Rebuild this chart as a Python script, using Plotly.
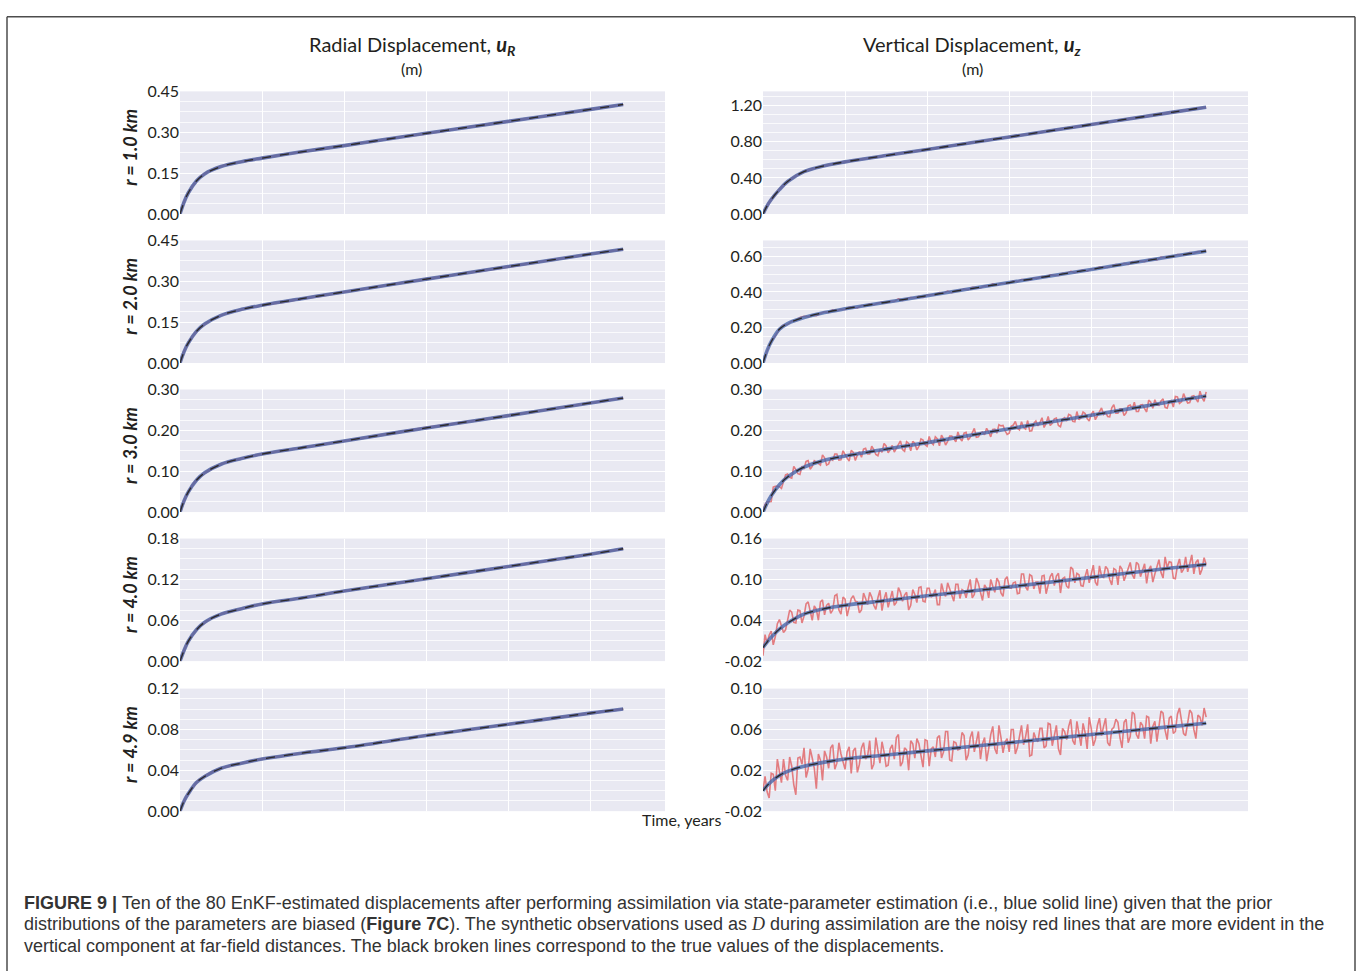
import numpy as np
import plotly.graph_objects as go
from plotly.subplots import make_subplots

# ---------------------------------------------------------------------------
# Data (displacements in metres, time in years)
# ---------------------------------------------------------------------------
ROW_LABELS = ["r = 1.0 km", "r = 2.0 km", "r = 3.0 km", "r = 4.0 km", "r = 4.9 km"]

# smooth curves (EnKF estimate / true value) sampled at these times
T_KNOTS = [0, 0.05, 0.1, 0.2, 0.3, 0.5, 0.75, 1.0, 1.5, 2.0, 3.0, 4.0, 5.0, 5.4]

RADIAL = [
    [0, 0.044, 0.077, 0.121, 0.147, 0.174, 0.192, 0.205, 0.229, 0.251, 0.296, 0.340, 0.384, 0.402],
    [0, 0.042, 0.073, 0.116, 0.143, 0.175, 0.197, 0.212, 0.237, 0.261, 0.308, 0.354, 0.400, 0.418],
    [0, 0.028, 0.049, 0.078, 0.096, 0.117, 0.131, 0.142, 0.158, 0.174, 0.206, 0.236, 0.267, 0.279],
    [0, 0.016, 0.029, 0.046, 0.057, 0.069, 0.077, 0.084, 0.093, 0.103, 0.121, 0.139, 0.157, 0.165],
    [0, 0.010, 0.017, 0.028, 0.034, 0.042, 0.047, 0.051, 0.057, 0.062, 0.074, 0.085, 0.096, 0.100],
]

VERTICAL = [
    [0, 0.090, 0.160, 0.270, 0.360, 0.470, 0.535, 0.578, 0.648, 0.716, 0.854, 0.992, 1.130, 1.185],
    [0, 0.070, 0.120, 0.190, 0.222, 0.256, 0.284, 0.305, 0.342, 0.379, 0.453, 0.527, 0.601, 0.630],
    [0, 0.022, 0.040, 0.067, 0.086, 0.110, 0.127, 0.137, 0.154, 0.170, 0.204, 0.237, 0.271, 0.284],
    [0, 0.008, 0.015, 0.027, 0.036, 0.049, 0.057, 0.062, 0.069, 0.076, 0.089, 0.103, 0.117, 0.122],
    [0, 0.005, 0.009, 0.015, 0.019, 0.024, 0.028, 0.031, 0.035, 0.039, 0.047, 0.055, 0.063, 0.066],
]

# synthetic (noisy) vertical observations: samples every 0.05 yr starting at 0,
# the *_MID lists hold the samples taken half-way between them
OBS_STEP = 0.05
OBS_V2 = [0.000, 0.068, 0.123, 0.153, 0.192, 0.214, 0.218, 0.235, 0.239, 0.256,
          0.263, 0.260, 0.270, 0.266, 0.279, 0.288, 0.285, 0.299, 0.296, 0.303,
          0.301, 0.314, 0.315, 0.310, 0.324, 0.323, 0.333, 0.328, 0.337, 0.343,
          0.338, 0.348, 0.347, 0.361, 0.353, 0.362, 0.369, 0.366, 0.375, 0.369,
          0.383, 0.384, 0.383, 0.396, 0.393, 0.405, 0.396, 0.407, 0.409, 0.416,
          0.413, 0.426, 0.424, 0.422, 0.434, 0.433, 0.445, 0.438, 0.448, 0.449,
          0.449, 0.462, 0.458, 0.470, 0.470, 0.466, 0.478, 0.478, 0.487, 0.483,
          0.496, 0.496, 0.493, 0.505, 0.504, 0.516, 0.509, 0.517, 0.525, 0.517,
          0.529, 0.529, 0.540, 0.541, 0.538, 0.547, 0.554, 0.551, 0.561, 0.555,
          0.571, 0.566, 0.574, 0.571, 0.583, 0.584, 0.581, 0.596, 0.593, 0.600,
          0.598, 0.610, 0.610, 0.608, 0.622, 0.618, 0.627, 0.626, 0.633]
OBS_V2_MID = []

OBS_V3 = [0.002, 0.025, 0.026, 0.063, 0.062, 0.076, 0.093, 0.083, 0.104, 0.092,
          0.107, 0.126, 0.112, 0.123, 0.115, 0.133, 0.118, 0.127, 0.142, 0.128,
          0.139, 0.125, 0.146, 0.140, 0.134, 0.156, 0.142, 0.153, 0.138, 0.146,
          0.162, 0.153, 0.147, 0.164, 0.153, 0.172, 0.150, 0.168, 0.161, 0.176,
          0.161, 0.170, 0.184, 0.162, 0.179, 0.173, 0.186, 0.172, 0.180, 0.193,
          0.176, 0.193, 0.183, 0.194, 0.189, 0.196, 0.202, 0.193, 0.211, 0.199,
          0.193, 0.213, 0.205, 0.221, 0.203, 0.198, 0.217, 0.211, 0.231, 0.217,
          0.212, 0.228, 0.212, 0.228, 0.223, 0.237, 0.221, 0.226, 0.245, 0.229,
          0.239, 0.226, 0.247, 0.239, 0.234, 0.255, 0.242, 0.253, 0.236, 0.260,
          0.252, 0.246, 0.262, 0.253, 0.274, 0.254, 0.262, 0.272, 0.256, 0.271,
          0.257, 0.282, 0.270, 0.277, 0.268, 0.285, 0.269, 0.280, 0.294]
OBS_V3_MID = [0.019, 0.026, 0.061, 0.063, 0.058, 0.091, 0.085, 0.112, 0.094, 0.112,
              0.124, 0.105, 0.126, 0.120, 0.140, 0.115, 0.131, 0.142, 0.127, 0.150,
              0.132, 0.151, 0.126, 0.148, 0.154, 0.142, 0.161, 0.141, 0.154, 0.168,
              0.145, 0.163, 0.156, 0.174, 0.149, 0.168, 0.173, 0.152, 0.179, 0.165,
              0.185, 0.165, 0.179, 0.188, 0.164, 0.186, 0.180, 0.196, 0.174, 0.195,
              0.183, 0.205, 0.184, 0.196, 0.205, 0.184, 0.203, 0.214, 0.212, 0.190,
              0.210, 0.222, 0.201, 0.207, 0.224, 0.199, 0.223, 0.219, 0.207, 0.234,
              0.217, 0.230, 0.209, 0.231, 0.239, 0.222, 0.246, 0.231, 0.241, 0.223,
              0.247, 0.235, 0.255, 0.244, 0.233, 0.263, 0.242, 0.253, 0.243, 0.262,
              0.269, 0.246, 0.263, 0.245, 0.269, 0.275, 0.261, 0.277, 0.254, 0.273,
              0.283, 0.266, 0.290, 0.267, 0.283, 0.278, 0.296, 0.271]

OBS_V4 = [-0.012, 0.006, 0.024, 0.016, 0.041, 0.022, 0.041, 0.052, 0.036, 0.054,
          0.046, 0.067, 0.040, 0.056, 0.067, 0.048, 0.065, 0.055, 0.078, 0.049,
          0.071, 0.057, 0.076, 0.067, 0.055, 0.072, 0.081, 0.062, 0.073, 0.054,
          0.081, 0.071, 0.062, 0.088, 0.068, 0.081, 0.062, 0.078, 0.088, 0.068,
          0.087, 0.074, 0.085, 0.063, 0.082, 0.095, 0.074, 0.093, 0.072, 0.083,
          0.088, 0.073, 0.102, 0.081, 0.092, 0.073, 0.090, 0.102, 0.080, 0.100,
          0.088, 0.095, 0.079, 0.108, 0.089, 0.107, 0.086, 0.096, 0.105, 0.079,
          0.104, 0.091, 0.109, 0.101, 0.090, 0.118, 0.095, 0.107, 0.090, 0.115,
          0.107, 0.096, 0.120, 0.103, 0.115, 0.092, 0.114, 0.120, 0.098, 0.114,
          0.107, 0.125, 0.104, 0.123, 0.114, 0.096, 0.120, 0.110, 0.133, 0.126,
          0.102, 0.120, 0.110, 0.133, 0.123, 0.108, 0.129, 0.115, 0.122]
OBS_V4_MID = [0.019, 0.018, 0.004, 0.035, 0.033, 0.026, 0.055, 0.037, 0.055, 0.036,
              0.064, 0.051, 0.061, 0.040, 0.070, 0.062, 0.050, 0.076, 0.055, 0.074,
              0.046, 0.072, 0.068, 0.051, 0.080, 0.063, 0.074, 0.056, 0.084, 0.071,
              0.059, 0.083, 0.066, 0.081, 0.077, 0.055, 0.085, 0.066, 0.089, 0.067,
              0.087, 0.077, 0.063, 0.094, 0.075, 0.086, 0.068, 0.093, 0.085, 0.073,
              0.100, 0.078, 0.094, 0.069, 0.087, 0.100, 0.081, 0.096, 0.075, 0.104,
              0.087, 0.096, 0.080, 0.108, 0.084, 0.105, 0.096, 0.079, 0.106, 0.091,
              0.109, 0.105, 0.080, 0.103, 0.087, 0.115, 0.109, 0.091, 0.104, 0.095,
              0.121, 0.091, 0.105, 0.119, 0.100, 0.116, 0.092, 0.115, 0.106, 0.125,
              0.101, 0.122, 0.115, 0.094, 0.120, 0.108, 0.129, 0.102, 0.117, 0.125,
              0.101, 0.130, 0.115, 0.111, 0.136, 0.125, 0.107, 0.132]

OBS_V5 = [0.000, -0.001, 0.017, 0.000, 0.019, 0.031, 0.010, 0.024, -0.004, 0.033,
          0.042, 0.021, 0.032, 0.002, 0.030, 0.039, 0.022, 0.045, 0.027, 0.036,
          0.021, 0.043, 0.039, 0.018, 0.042, 0.031, 0.049, 0.026, 0.038, 0.048,
          0.024, 0.041, 0.031, 0.055, 0.028, 0.040, 0.049, 0.032, 0.046, 0.023,
          0.049, 0.041, 0.033, 0.054, 0.038, 0.058, 0.029, 0.047, 0.041, 0.054,
          0.035, 0.058, 0.047, 0.031, 0.052, 0.041, 0.063, 0.036, 0.052, 0.048,
          0.038, 0.060, 0.042, 0.064, 0.053, 0.034, 0.057, 0.048, 0.061, 0.044,
          0.065, 0.056, 0.041, 0.061, 0.050, 0.070, 0.045, 0.056, 0.066, 0.041,
          0.061, 0.050, 0.071, 0.063, 0.047, 0.060, 0.070, 0.052, 0.067, 0.047,
          0.077, 0.055, 0.067, 0.051, 0.072, 0.063, 0.048, 0.078, 0.059, 0.071,
          0.056, 0.075, 0.069, 0.054, 0.079, 0.060, 0.074, 0.064, 0.072]
OBS_V5_MID = [0.014, -0.007, 0.016, 0.031, 0.008, 0.015, 0.033, 0.006, 0.032, 0.026,
              0.013, 0.041, 0.022, 0.036, 0.010, 0.033, 0.042, 0.021, 0.047, 0.029,
              0.038, 0.017, 0.042, 0.026, 0.047, 0.034, 0.021, 0.052, 0.027, 0.038,
              0.025, 0.045, 0.052, 0.024, 0.042, 0.020, 0.046, 0.051, 0.034, 0.050,
              0.024, 0.043, 0.052, 0.032, 0.058, 0.030, 0.048, 0.040, 0.057, 0.030,
              0.052, 0.038, 0.058, 0.046, 0.029, 0.055, 0.041, 0.064, 0.037, 0.051,
              0.060, 0.036, 0.055, 0.045, 0.065, 0.035, 0.051, 0.061, 0.042, 0.066,
              0.044, 0.064, 0.035, 0.058, 0.063, 0.049, 0.068, 0.044, 0.057, 0.072,
              0.044, 0.064, 0.054, 0.071, 0.044, 0.062, 0.067, 0.042, 0.070, 0.053,
              0.075, 0.051, 0.064, 0.073, 0.046, 0.068, 0.061, 0.076, 0.050, 0.073,
              0.058, 0.081, 0.056, 0.067, 0.076, 0.051, 0.072, 0.081]

OBS_VERTICAL = [None, (OBS_V2, OBS_V2_MID), (OBS_V3, OBS_V3_MID),
                (OBS_V4, OBS_V4_MID), (OBS_V5, OBS_V5_MID)]

# y-axis ticks and ranges per panel
RAD_TICKS = [
    [0.00, 0.15, 0.30, 0.45],
    [0.00, 0.15, 0.30, 0.45],
    [0.00, 0.10, 0.20, 0.30],
    [0.00, 0.06, 0.12, 0.18],
    [0.00, 0.04, 0.08, 0.12],
]
RAD_RANGES = [[0, 0.45], [0, 0.45], [0, 0.30], [0, 0.18], [0, 0.12]]
VERT_TICKS = [
    [0.00, 0.40, 0.80, 1.20],
    [0.00, 0.20, 0.40, 0.60],
    [0.00, 0.10, 0.20, 0.30],
    [-0.02, 0.04, 0.10, 0.16],
    [-0.02, 0.02, 0.06, 0.10],
]
VERT_RANGES = [[0, 1.36], [0, 0.69], [0, 0.30], [-0.02, 0.16], [-0.02, 0.10]]
TIME_RANGE = [0, 5.91]

# ---------------------------------------------------------------------------
# Layout geometry (pixels)
# ---------------------------------------------------------------------------
W, H = 1358, 980
COL_PX = [(180, 665), (763, 1248)]
ROW_PX = [(83, 208), (235, 360), (387, 512), (539, 664), (692, 817)]


def fx(px):
    return px / W


def fy(py):
    return 1 - py / H


def merge_samples(on_step, mid_step, step):
    """Interleave samples taken on the grid and half-way between grid points."""
    t, y = [], []
    for i, v in enumerate(on_step):
        t.append(i * step)
        y.append(v)
        if i < len(mid_step):
            t.append(i * step + step / 2)
            y.append(mid_step[i])
    return t, y


BG = "#E9E9F2"
RED = "rgba(224,104,108,0.85)"
BLUE = "rgba(72,102,170,0.80)"
BLACK = "#2a2a2a"
SANS = "Lato, Open Sans, sans-serif"
INK = "#231f20"
TICK_FONT = dict(family=SANS, size=16, color=INK)

fig = make_subplots(rows=5, cols=2)

for r in range(5):
    for c in range(2):
        est = RADIAL[r] if c == 0 else VERTICAL[r]
        obs = OBS_VERTICAL[r] if c == 1 else None
        if obs is not None:
            t_obs, y_obs = merge_samples(obs[0], obs[1], OBS_STEP)
            fig.add_trace(go.Scatter(x=t_obs, y=y_obs, mode="lines",
                                     line=dict(color=RED, width=1.6),
                                     showlegend=False, hoverinfo="skip"),
                          row=r + 1, col=c + 1)
        else:
            fig.add_trace(go.Scatter(x=T_KNOTS, y=est, mode="lines",
                                     line=dict(color=RED, width=2.6, shape="spline"),
                                     showlegend=False, hoverinfo="skip"),
                          row=r + 1, col=c + 1)
        # EnKF estimate (blue solid)
        fig.add_trace(go.Scatter(x=T_KNOTS, y=est, mode="lines",
                                 line=dict(color=BLUE, width=3.6, shape="spline"),
                                 showlegend=False),
                      row=r + 1, col=c + 1)
        # true displacement (black broken)
        fig.add_trace(go.Scatter(x=T_KNOTS, y=est, mode="lines",
                                 line=dict(color=BLACK, width=1.3, dash="dash", shape="spline"),
                                 showlegend=False),
                      row=r + 1, col=c + 1)

        ticks = RAD_TICKS[r] if c == 0 else VERT_TICKS[r]
        yr = RAD_RANGES[r] if c == 0 else VERT_RANGES[r]
        step = ticks[1] - ticks[0]
        idx = r * 2 + c + 1
        xname = "xaxis" if idx == 1 else f"xaxis{idx}"
        yname = "yaxis" if idx == 1 else f"yaxis{idx}"
        fig.layout[xname].update(
            domain=[fx(COL_PX[c][0]), fx(COL_PX[c][1])],
            range=TIME_RANGE, showticklabels=False, ticks="",
            dtick=1, tick0=0, showgrid=True, gridcolor="white", gridwidth=1.2,
            zeroline=False, showline=False,
        )
        fig.layout[yname].update(
            domain=[fy(ROW_PX[r][1]), fy(ROW_PX[r][0])],
            range=yr,
            tickvals=ticks, ticktext=[f"{v:.2f}" for v in ticks],
            tickfont=TICK_FONT, ticks="", ticklen=0,
            showgrid=True, gridcolor="white", gridwidth=1.4,
            minor=dict(tick0=ticks[0], dtick=step / 4, showgrid=True,
                       gridcolor="rgba(255,255,255,0.75)", gridwidth=0.8),
            zeroline=False, showline=False,
        )

annotations = []
TITLE_FONT = dict(family=SANS, size=20, color=INK)
SUB_FONT = dict(family=SANS, size=16, color=INK)
for xc, title in [(412, "Radial Displacement, <b><i>u</i></b><sub><b><i>R</i></b></sub>"),
                  (972, "Vertical Displacement, <b><i>u</i></b><sub><b><i>z</i></b></sub>")]:
    annotations.append(dict(x=fx(xc), y=fy(36), xref="paper", yref="paper", showarrow=False,
                            text=title, font=TITLE_FONT, xanchor="center", yanchor="middle"))
    annotations.append(dict(x=fx(xc), y=fy(60), xref="paper", yref="paper", showarrow=False,
                            text="(m)", font=SUB_FONT, xanchor="center", yanchor="middle"))

for r, lab in enumerate(ROW_LABELS):
    yc = (ROW_PX[r][0] + ROW_PX[r][1]) / 2 - 5
    annotations.append(dict(x=fx(130), y=fy(yc), xref="paper", yref="paper", showarrow=False,
                            text=f"<b><i>{lab}</i></b>", textangle=-90,
                            font=dict(family=SANS, size=18, color=INK),
                            xanchor="center", yanchor="middle"))

annotations.append(dict(x=fx(681), y=fy(826), xref="paper", yref="paper", showarrow=False,
                        text="Time, years", font=dict(family=SANS, size=16, color=INK),
                        xanchor="center", yanchor="middle"))

CAPTION = [
    "<b>FIGURE 9 |</b> Ten of the 80 EnKF-estimated displacements after performing assimilation "
    "via state-parameter estimation (i.e., blue solid line) given that the prior",
    "distributions of the parameters are biased (<b>Figure 7C</b>). The synthetic observations "
    "used as <i><span style=\"font-family:'Liberation Serif', serif\">D</span></i> during assimilation "
    "are the noisy red lines that are more evident in the",
    "vertical component at far-field distances. The black broken lines correspond to the true "
    "values of the displacements.",
]
for i, line in enumerate(CAPTION):
    annotations.append(dict(x=fx(22), y=fy(911 + 21.5 * i), xref="paper", yref="paper",
                            showarrow=False, text=line, align="left",
                            font=dict(family="Liberation Sans, Arial, sans-serif", size=18,
                                      color="#333333"),
                            xanchor="left", yanchor="middle"))

# frame around the figure
BORDER = dict(color="#4d4d4d", width=1.5)
shapes = [
    dict(type="line", xref="paper", yref="paper", x0=fx(7), x1=fx(1355), y0=fy(7), y1=fy(7), line=BORDER),
    dict(type="line", xref="paper", yref="paper", x0=fx(7), x1=fx(7), y0=fy(7), y1=0, line=BORDER),
    dict(type="line", xref="paper", yref="paper", x0=fx(1355), x1=fx(1355), y0=fy(7), y1=0, line=BORDER),
]

fig.update_layout(
    width=W, height=H,
    margin=dict(l=0, r=0, t=0, b=0),
    paper_bgcolor="white", plot_bgcolor=BG,
    annotations=annotations, shapes=shapes,
    showlegend=False,
)

fig.write_html("out.html", config=dict(displayModeBar=False))
